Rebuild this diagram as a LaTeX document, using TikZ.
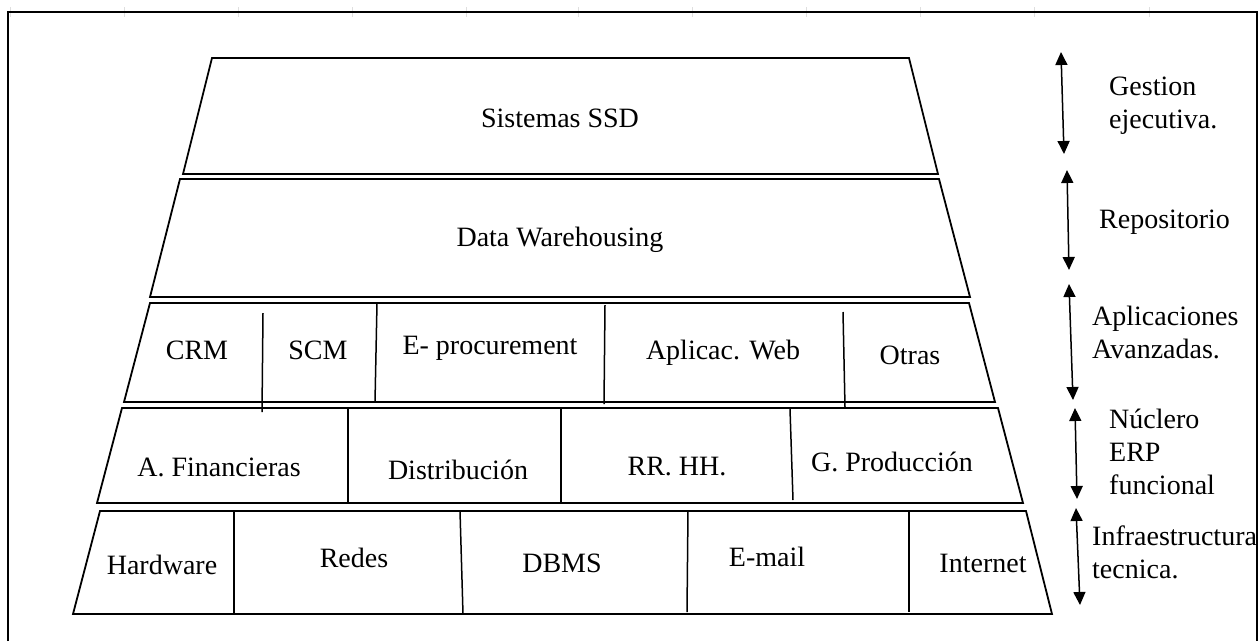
\documentclass[tikz,border=0pt]{standalone}
\usepackage{fontspec}
\setmainfont{Liberation Serif}
\usetikzlibrary{arrows.meta}
\tikzset{
  layer/.style={line width=1.8pt, line join=miter},
  divider/.style={line width=1.5pt},
  frameline/.style={line width=2.4pt},
  cell/.style={inner sep=0pt, font=\fontsize{28}{33}\selectfont},
  side/.style={inner sep=0pt, anchor=west, align=left, font=\fontsize{28}{33}\selectfont},
  span/.style={line width=1.5pt, {Triangle[width=12pt,length=13pt]}-{Triangle[width=12pt,length=13pt]}},
  ruler/.style={gray!25, line width=0.8pt}
}
\begin{document}
\begin{tikzpicture}[x=1pt, y=-1pt]
\useasboundingbox (0,0) rectangle (1259,641);

% faint ruler ticks above the frame
\foreach \t in {10,124,238,352,466,578,692,806,920,1034,1149}
  \draw[ruler] (\t,7) -- (\t,17);

% outer frame (bottom edge lies below the page)
\draw[frameline] (8,641) -- (8,12) -- (1257,12) -- (1257,641);

% pyramid layers
\draw[layer] (212,58) -- (909,58) -- (938,174) -- (183,174) -- cycle;
\draw[layer] (180,179) -- (939,179) -- (970,297) -- (150,297) -- cycle;
\draw[layer] (150,303) -- (969,303) -- (995,402) -- (124,402) -- cycle;
\draw[layer] (122,408) -- (998,408) -- (1023,503) -- (97,503) -- cycle;
\draw[layer] (100,511) -- (1026,511) -- (1052,614) -- (73,614) -- cycle;

% cell dividers
\draw[divider] (263,313) -- (262,412);
\draw[divider] (377,303) -- (375,402);
\draw[divider] (605,305) -- (604,404);
\draw[divider] (843,312) -- (845,407);

\draw[divider] (348,408) -- (348,503);
\draw[divider] (561,408) -- (561,503);
\draw[divider] (790,409) -- (793,500);

\draw[divider] (234,511) -- (234,614);
\draw[divider] (460,511) -- (463,614);
\draw[divider] (688,511) -- (687,612);
\draw[divider] (909,511) -- (909,612);

% layer labels
\node[cell] (ssd) at (560,118) {Sistemas SSD};
\node[cell] (dw)  at (560,240) {Data Warehousing};

\node[cell] (crm)  at (197,350) {CRM};
\node[cell] (scm)  at (318,350) {SCM};
\node[cell] (eproc) at (490,348) {E- procurement};
\node[cell] (web)  at (723,353) {Aplicac. Web};
\node[cell] (otras) at (910,355) {Otras};

\node[cell] (fin)  at (219,467) {A. Financieras};
\node[cell] (dist) at (458,470) {Distribución};
\node[cell] (rrhh) at (677,467) {RR. HH.};
\node[cell] (prod) at (892,462) {G. Producción};

\node[cell] (hw)   at (162,565) {Hardware};
\node[cell] (red)  at (354,558) {Redes};
\node[cell] (dbms) at (562,563) {DBMS};
\node[cell] (mail) at (767,557) {E-mail};
\node[cell] (inet) at (983,563) {Internet};

% level spans
\coordinate (s1a) at (1061,52);  \coordinate (s1b) at (1064,154);
\coordinate (s2a) at (1067,170); \coordinate (s2b) at (1069,270);
\coordinate (s3a) at (1069,284); \coordinate (s3b) at (1073,400);
\coordinate (s4a) at (1075,408); \coordinate (s4b) at (1077,499);
\coordinate (s5a) at (1076,508); \coordinate (s5b) at (1080,605);
\draw[span] (s1a) -- (s1b);
\draw[span] (s2a) -- (s2b);
\draw[span] (s3a) -- (s3b);
\draw[span] (s4a) -- (s4b);
\draw[span] (s5a) -- (s5b);

% level names
\node[side] (lvl1) at (1109,106) {Gestion\\ejecutiva.};
\node[side] (lvl2) at (1099,222) {Repositorio};
\node[side] (lvl3) at (1092,332) {Aplicaciones\\Avanzadas.};
\node[side] (lvl4) at (1109,452) {Núclero\\ERP\\funcional};
\node[side] (lvl5) at (1092,552) {Infraestructura\\tecnica.};
\end{tikzpicture}
\end{document}
